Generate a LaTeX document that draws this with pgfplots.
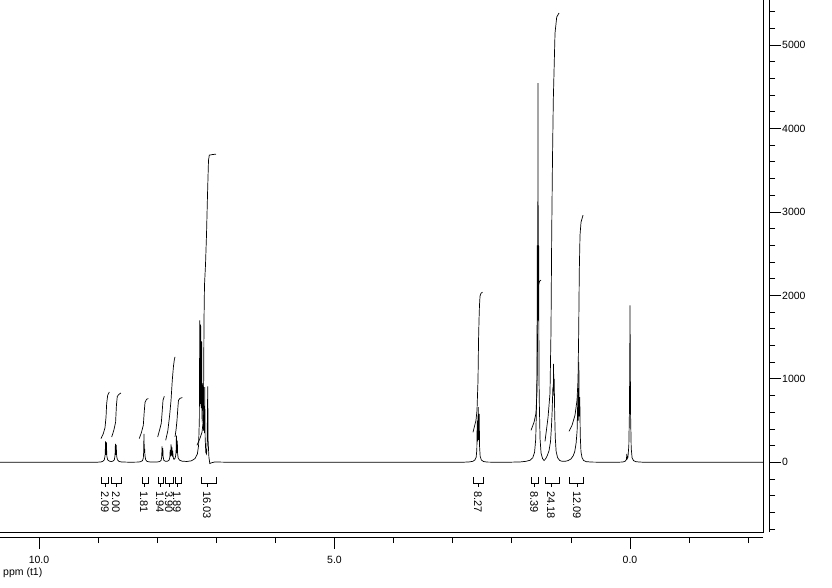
\documentclass[border=0pt]{standalone}
\usepackage{pgfplots}
\pgfplotsset{compat=1.18}
\usepackage{fontspec}
\setmainfont{Liberation Sans}
\newcommand{\lf}{\fontsize{10.5}{12}\selectfont}
\newcommand{\ilf}{\fontsize{11}{12}\selectfont}
\newcommand{\intg}[4]{%
  \draw[line width=0.6pt] (axis cs:#1,-176) -- (axis cs:#1,-248) -- (axis cs:#2,-248) -- (axis cs:#2,-176);
  \draw[line width=0.6pt] (axis cs:#3,-248) -- (axis cs:#3,-300);
  \node[rotate=-90, anchor=west, inner sep=0pt, font=\ilf] at (axis cs:#3,-345) {#4};}
\begin{document}
\begin{tikzpicture}[x=1pt,y=1pt]
\begin{axis}[scale only axis,
  width=763pt, height=532pt,
  xmin=-2.25, xmax=10.66, ymin=-835, ymax=5540, x dir=reverse,
  clip=false,
  axis x line*=bottom, axis y line*=right,
  x axis line style={line width=0.8pt, -, yshift=-5pt},
  y axis line style={line width=0.8pt, -, xshift=6pt},
  xtick={10,5,0}, xticklabels={10.0,5.0,0.0},
  minor xtick={-2,-1,1,2,3,4,6,7,8,9},
  ytick={0,1000,2000,3000,4000,5000},
  yticklabels={0,1000,2000,3000,4000,5000},
  minor ytick={-800,-600,-400,-200,200,400,600,800,1200,1400,1600,1800,2200,2400,2600,2800,3200,3400,3600,3800,4200,4400,4600,4800,5200,5400},
  tick align=outside,
  xtick style={black, line width=0.8pt, yshift=-5pt},
  ytick style={black, line width=0.8pt, xshift=6pt},
  xticklabel style={font=\lf, inner sep=1pt, yshift=-11pt},
  yticklabel style={font=\lf, anchor=west, inner sep=1pt, xshift=6pt},
  major tick length=12pt, minor tick length=6pt]
\addplot[black, line width=0.7pt, mark=none] coordinates {
(10.66,0) (9.10,0) (9.00,2) (8.95,5) (8.92,12) (8.895,30) (8.882,80) (8.878,140)
(8.874,250) (8.867,90) (8.859,240) (8.855,130) (8.851,70) (8.838,30) (8.81,14)
(8.78,10) (8.75,14) (8.725,30) (8.714,80) (8.711,130) (8.707,220) (8.700,90)
(8.693,210) (8.689,120) (8.685,70) (8.672,28) (8.645,10) (8.60,4) (8.45,1)
(8.32,3) (8.28,8) (8.25,20) (8.235,50) (8.229,120) (8.224,340) (8.218,110)
(8.212,160) (8.207,80) (8.195,30) (8.17,10) (8.12,4) (8.05,3) (8.00,4) (7.96,9)
(7.935,22) (7.924,60) (7.918,190) (7.912,75) (7.905,170) (7.900,70) (7.888,25)
(7.86,12) (7.83,12) (7.80,25) (7.787,55) (7.780,150) (7.773,70) (7.765,215)
(7.758,80) (7.750,180) (7.743,70) (7.735,110) (7.728,55) (7.715,35) (7.70,45)
(7.69,70) (7.681,120) (7.675,320) (7.668,110) (7.660,260) (7.654,100) (7.645,50)
(7.62,25) (7.58,14) (7.50,10) (7.42,18) (7.36,45) (7.32,100) (7.30,200)
(7.287,500) (7.280,1700) (7.273,700) (7.265,1650) (7.257,650) (7.248,1450)
(7.240,480) (7.225,950) (7.215,380) (7.207,550) (7.201,350) (7.196,900)
(7.189,300) (7.178,120) (7.165,100) (7.155,240) (7.145,910) (7.138,250)
(7.125,60) (7.11,-15) (7.08,-5) (7.02,5) (6.95,3) (6.80,1) (6.50,0)
(3.00,0) (2.80,2) (2.72,5) (2.66,12) (2.625,28) (2.603,60) (2.592,150) (2.585,500)
(2.578,250) (2.568,660) (2.561,270) (2.552,580) (2.545,180) (2.535,70) (2.515,28)
(2.48,10) (2.42,3) (2.30,1) (2.00,2) (1.85,5) (1.76,12) (1.69,25) (1.645,55)
(1.615,120) (1.595,280) (1.582,700) (1.575,1000) (1.568,2600) (1.562,1700)
(1.557,4545) (1.552,1700) (1.546,2600) (1.540,1000) (1.533,650) (1.522,280)
(1.505,110) (1.48,45) (1.455,22) (1.43,40) (1.40,80) (1.37,140) (1.345,250)
(1.330,420) (1.318,600) (1.305,900) (1.299,800) (1.294,1180) (1.289,850)
(1.283,1000) (1.275,600) (1.265,300) (1.25,130) (1.225,55) (1.19,22) (1.15,12)
(1.10,12) (1.05,20) (1.00,40) (0.96,80) (0.935,130) (0.912,230) (0.895,380)
(0.882,830) (0.875,500) (0.866,1200) (0.859,550) (0.850,780) (0.842,320)
(0.830,130) (0.812,55) (0.785,22) (0.74,8) (0.65,3) (0.50,1) (0.20,1) (0.12,4)
(0.08,14) (0.06,35) (0.055,100) (0.05,40) (0.035,60) (0.02,200) (0.01,600)
(0.004,1250) (0.000,1880) (-0.004,1250) (-0.010,550) (-0.020,170) (-0.035,55)
(-0.06,20) (-0.10,7) (-0.20,2) (-0.35,0) (-2.25,0)
};
% integral curves
\addplot[black, line width=0.7pt, mark=none] coordinates {(8.951,284) (8.912,344) (8.883,416) (8.866,543) (8.855,704) (8.838,803) (8.810,843)};
\addplot[black, line width=0.7pt, mark=none] coordinates {(8.770,303) (8.734,384) (8.704,480) (8.690,683) (8.675,791) (8.646,815) (8.613,831)};
\addplot[black, line width=0.7pt, mark=none] coordinates {(8.303,284) (8.266,360) (8.235,444) (8.220,600) (8.206,719) (8.181,755) (8.151,764)};
\addplot[black, line width=0.7pt, mark=none] coordinates {(7.992,303) (7.961,384) (7.931,468) (7.914,623) (7.902,743) (7.880,791)};
\addplot[black, line width=0.7pt, mark=none] coordinates {(7.856,264) (7.82,380) (7.79,560) (7.766,743) (7.745,983) (7.725,1150) (7.710,1230) (7.699,1263)};
\addplot[black, line width=0.7pt, mark=none] coordinates {(7.699,303) (7.682,384) (7.665,504) (7.651,647) (7.640,743) (7.614,767) (7.575,776)};
\addplot[black, line width=0.7pt, mark=none] coordinates {(7.327,204) (7.276,288) (7.242,360) (7.220,504) (7.214,983) (7.208,1703) (7.200,2122) (7.183,2362) (7.166,2722) (7.149,3201) (7.132,3621) (7.118,3681) (7.073,3687) (7.005,3693)};
\addplot[black, line width=0.7pt, mark=none] coordinates {(2.657,360) (2.606,504) (2.589,624) (2.572,983) (2.563,1463) (2.555,1703) (2.547,1882) (2.538,1990) (2.521,2026) (2.496,2038)};
\addplot[black, line width=0.7pt, mark=none] coordinates {(1.675,384) (1.624,480) (1.591,588) (1.574,863) (1.565,1463) (1.557,1942) (1.548,2122) (1.531,2170) (1.506,2182)};
\addplot[black, line width=0.7pt, mark=none] coordinates {(1.438,252) (1.387,540) (1.354,827) (1.337,1583) (1.325,2746) (1.312,3621) (1.298,4341) (1.269,5144) (1.240,5336) (1.201,5384)};
\addplot[black, line width=0.7pt, mark=none] coordinates {(1.032,372) (0.981,444) (0.931,564) (0.897,743) (0.880,983) (0.868,1583) (0.858,2302) (0.846,2722) (0.829,2878) (0.795,2962)};
% frame (bottom and right)
\draw[line width=0.8pt] (axis description cs:0,0) -- (axis description cs:1,0) -- (axis description cs:1,1);
\coordinate (sw) at (axis description cs:0,0);
% integration brackets and values
\intg{8.951}{8.832}{8.883}{2.09}
\intg{8.782}{8.613}{8.697}{2.00}
\intg{8.257}{8.156}{8.223}{1.81}
\intg{7.986}{7.902}{7.953}{1.94}
\intg{7.868}{7.733}{7.800}{3.90}
\intg{7.699}{7.597}{7.665}{1.89}
\intg{7.259}{7.005}{7.157}{16.03}
\intg{2.657}{2.487}{2.572}{8.27}
\intg{1.675}{1.557}{1.624}{8.39}
\intg{1.438}{1.201}{1.337}{24.18}
\intg{1.032}{0.795}{0.897}{12.09}
\end{axis}
\node[anchor=west, inner sep=0pt, font=\lf] at ([shift={(3,-41)}]sw) {ppm (t1)};
\pgfresetboundingbox
\path[use as bounding box] (sw) ++(0,-55) rectangle ++(832,587);
\end{tikzpicture}
\end{document}
